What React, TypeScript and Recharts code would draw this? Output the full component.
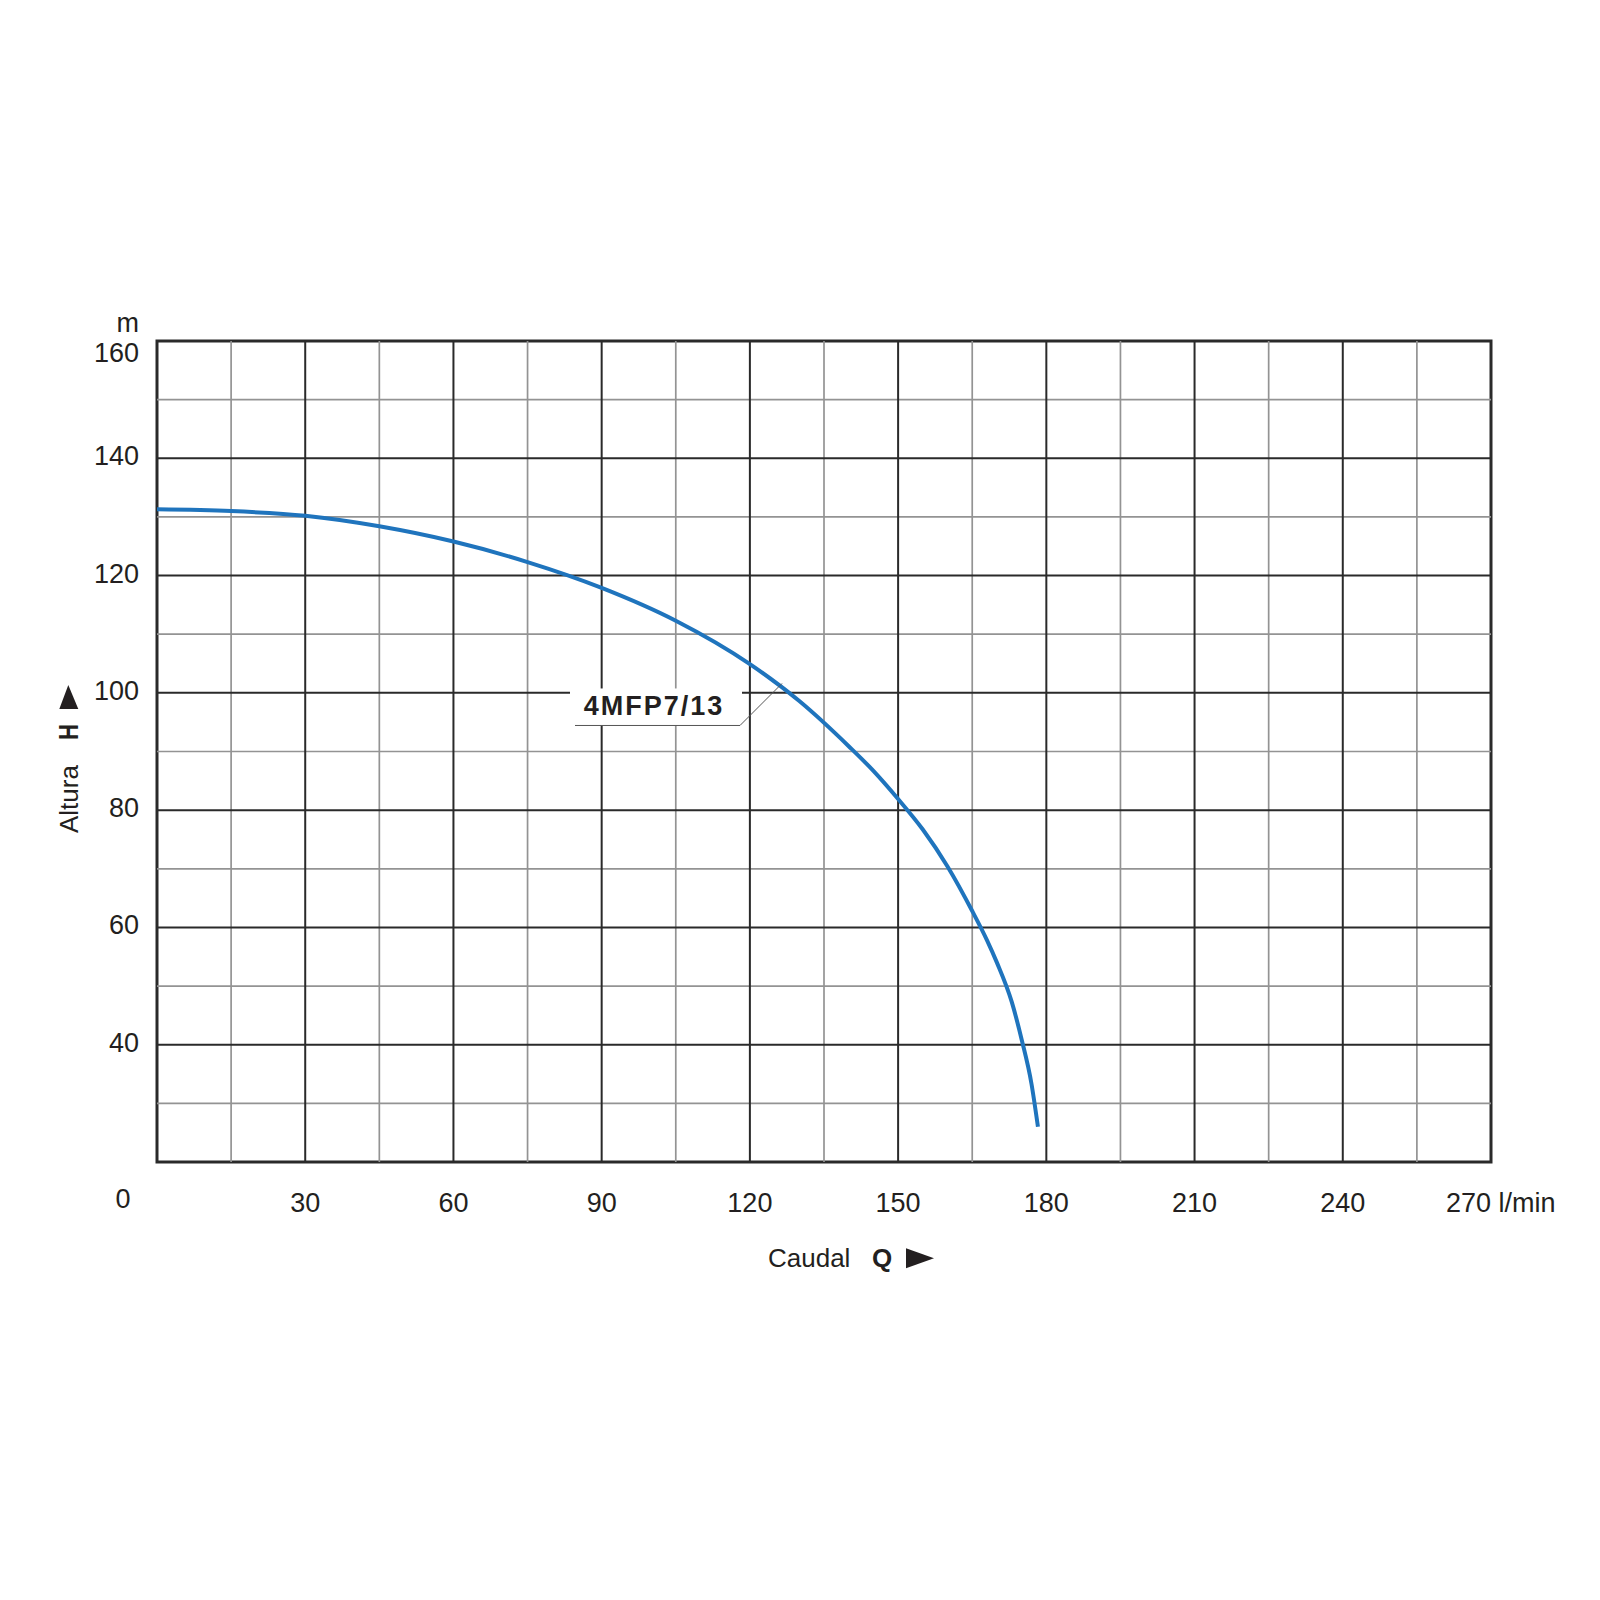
import React from 'react';
import { LineChart, Line, XAxis, YAxis, ReferenceLine, ReferenceArea, ReferenceDot } from 'recharts';

// Pump curve 4MFP7/13: flow Q (l/min) vs head H (m)
const flow = [0, 15, 30, 45, 60, 75, 90, 105, 120, 130, 140, 145, 150, 155, 160, 165, 168, 170, 173, 175, 177, 178.3];
const head = [131.3, 131.0, 130.2, 128.4, 125.8, 122.3, 117.9, 112.3, 104.9, 98.6, 90.9, 86.7, 81.9, 76.7, 70.4, 62.8, 57.8, 54, 47.3, 40.9, 33.3, 26];

const xTicks = [0, 30, 60, 90, 120, 150, 180, 210, 240, 270];
const yTicks = [40, 60, 80, 100, 120, 140, 160];
const xMajor = [30, 60, 90, 120, 150, 180, 210, 240];
const xMinor = [15, 45, 75, 105, 135, 165, 195, 225, 255];
const yMajor = [40, 60, 80, 100, 120, 140];
const yMinor = [30, 50, 70, 90, 110, 130, 150];

const curveName = '4MFP7/13';
const labelAnchor = { q: 126.5, h: 101.6 };

const FONT = '"Liberation Sans", Arial, Helvetica, sans-serif';
const INK = '#231f20';
const MAJOR = '#2a2a2a';
const MINOR = '#939393';
const BLUE = '#1f74bd';

const data = flow.map((q, i) => ({ q, h: head[i] }));

const XTick = (props: any) => {
  const { x, y, payload } = props;
  const v = payload.value;
  if (v === 0) {
    return (
      <text x={x - 34} y={y + 46} textAnchor="middle" fontSize={27} fontFamily={FONT} fill={INK}>0</text>
    );
  }
  if (v === 270) {
    return (
      <text x={x - 45} y={y + 50} textAnchor="start" fontSize={27} fontFamily={FONT} fill={INK}>270 l/min</text>
    );
  }
  return (
    <text x={x} y={y + 50} textAnchor="middle" fontSize={27} fontFamily={FONT} fill={INK}>{v}</text>
  );
};

const YTick = (props: any) => {
  const { x, y, payload } = props;
  const v = payload.value;
  return (
    <text x={x - 18} y={y + (v === 160 ? 21 : 7)} textAnchor="end" fontSize={27} fontFamily={FONT} fill={INK}>{v}</text>
  );
};

const CurveTag = (props: any) => {
  const { cx, cy } = props;
  return (
    <g>
      <rect x={cx - 212} y={cy + 5} width={172} height={37} fill="#fff" />
      <polyline
        points={`${cx - 207},${cy + 42} ${cx - 42},${cy + 42} ${cx},${cy}`}
        fill="none"
        stroke="#555"
        strokeWidth={1}
      />
      <text x={cx - 128} y={cy + 32} textAnchor="middle" fontSize={27} fontWeight="bold" letterSpacing={2} fontFamily={FONT} fill={INK}>
        {curveName}
      </text>
    </g>
  );
};

export default function App() {
  return (
    <div style={{ position: 'relative', width: 1584, height: 1500, background: '#fff' }}>
      <LineChart width={1584} height={1500} data={data} margin={{ top: 333, right: 101, bottom: 286, left: 89 }}>
        <XAxis
          dataKey="q"
          type="number"
          domain={[0, 270]}
          ticks={xTicks}
          axisLine={false}
          tickLine={false}
          tickSize={0}
          tickMargin={0}
          height={60}
          tick={<XTick />}
          interval={0}
        />
        <YAxis
          type="number"
          domain={[20, 160]}
          ticks={yTicks}
          axisLine={false}
          tickLine={false}
          tickSize={0}
          tickMargin={0}
          width={60}
          tick={<YTick />}
          interval={0}
        />
        {xMinor.map((v) => (
          <ReferenceLine key={`xm${v}`} x={v} stroke={MINOR} strokeWidth={1.7} />
        ))}
        {yMinor.map((v) => (
          <ReferenceLine key={`ym${v}`} y={v} stroke={MINOR} strokeWidth={1.7} />
        ))}
        {xMajor.map((v) => (
          <ReferenceLine key={`xM${v}`} x={v} stroke={MAJOR} strokeWidth={2} />
        ))}
        {yMajor.map((v) => (
          <ReferenceLine key={`yM${v}`} y={v} stroke={MAJOR} strokeWidth={2} />
        ))}
        <ReferenceArea x1={0} x2={270} y1={20} y2={160} fill="none" fillOpacity={0} stroke={MAJOR} strokeWidth={3} strokeOpacity={1} />
        <ReferenceDot x={labelAnchor.q} y={labelAnchor.h} r={0} shape={<CurveTag />} />
        <Line
          type="monotone"
          dataKey="h"
          stroke={BLUE}
          strokeWidth={4}
          dot={false}
          activeDot={false}
          isAnimationActive={false}
        />
      </LineChart>
      <svg
        width={1584}
        height={1500}
        style={{ position: 'absolute', left: 0, top: 0, pointerEvents: 'none' }}
        fontFamily={FONT}
        fill={INK}
      >
        <text x={131} y={324} textAnchor="end" fontSize={27}>m</text>
        <g transform="translate(70, 825) rotate(-90)">
          <text x={0} y={0} fontSize={26}>Altura</text>
          <text x={93} y={0} fontSize={28} fontWeight="bold" textLength={16} lengthAdjust="spacingAndGlyphs">H</text>
        </g>
        <polygon points="60.3,677 51.3,701 70.3,701" fill={INK} />
        <text x={760} y={1259} fontSize={26}>Caudal</text>
        <text x={864} y={1259} fontSize={26} fontWeight="bold">Q</text>
        <polygon points="898,1240.3 898,1260.3 926,1250.3" fill={INK} />
      </svg>
    </div>
  );
}
